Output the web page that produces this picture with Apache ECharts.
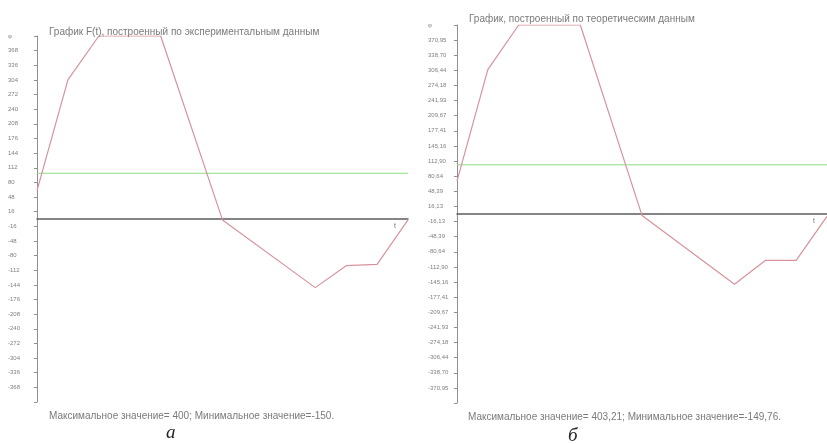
<!DOCTYPE html>
<html>
<head>
<meta charset="utf-8">
<script src="https://cdn.jsdelivr.net/npm/echarts@6/dist/echarts.min.js"></script>
<style>
  html, body { margin: 0; padding: 0; background: #fff; }
  #main { width: 827px; height: 444px; }
</style>
</head>
<body>
<div id="main"></div>
<script>
// углы (град) в точках излома
var anglesA = [0, 30, 60, 120, 180, 270, 300, 330, 360]
var valuesA = [62, 304, 400, 400, -2, -150, -102, -99, -2]
var anglesB = [0, 30, 60, 120, 180, 270, 300, 330, 360]
var valuesB = [70, 308, 403.21, 403.21, -3, -149.76, -99, -99, -5]
// зелёная линия (среднее)
var avgA = 100
var avgB = 105
// пределы осей
var limitA = 400
var limitB = 403.21
var titleA = 'График F(t), построенный по экспериментальным данным'
var titleB = 'График, построенный по теоретическим данным'
var footA = 'Максимальное значение= 400; Минимальное значение=-150.'
var footB = 'Максимальное значение= 403,21; Минимальное значение=-149,76.'

function pairs(xs, ys) {
  return xs.map(function (x, i) { return [x, ys[i]] })
}

function yAxisFor(idx, limit, digits) {
  return {
    type: 'value',
    gridIndex: idx,
    min: -limit,
    max: limit,
    interval: (2 * limit) / 25,
    splitLine: { show: false },
    axisLine: { show: true, lineStyle: { color: '#8f8f8f', width: 1 } },
    axisTick: { show: true, length: 3, lineStyle: { color: '#8f8f8f' } },
    axisLabel: {
      margin: 29,
      align: 'left',
      fontSize: 6,
      color: '#7f7f7f',
      fontFamily: 'Liberation Sans',
      showMinLabel: true,
      showMaxLabel: true,
      formatter: function (v) {
        if (Math.abs(v - limit) < 1e-6) return 'φ'
        if (Math.abs(v + limit) < 1e-6) return ''
        if (digits === 0) return String(Math.round(v))
        return v.toFixed(2).replace('.', ',')
      },
    },
  }
}

function xAxisFor(idx) {
  return {
    type: 'value',
    gridIndex: idx,
    min: 0,
    max: 360,
    name: 't',
    nameLocation: 'end',
    nameGap: -14,
    nameTextStyle: { fontSize: 7, color: '#777', verticalAlign: 'top', padding: [4, 0, 0, 0] },
    axisLine: { onZero: true, lineStyle: { color: '#5e5e5e', width: 1.5 } },
    axisTick: { show: false },
    axisLabel: { show: false },
    splitLine: { show: false },
  }
}

function lineSeries(idx, data) {
  return {
    type: 'line',
    xAxisIndex: idx,
    yAxisIndex: idx,
    data: data,
    showSymbol: false,
    z: 3,
    lineStyle: { color: '#d7939d', width: 1.2 },
  }
}

// горизонтальная зелёная линия среднего значения
function avgSeries(idx, avg) {
  return {
    type: 'line',
    xAxisIndex: idx,
    yAxisIndex: idx,
    data: [[0, avg], [360, avg]],
    showSymbol: false,
    silent: true,
    z: 2,
    lineStyle: { color: '#8fdc82', width: 1 },
  }
}

var myChart = echarts.init(document.getElementById('main'))

var textStyle = { fontSize: 10, fontWeight: 'normal', color: '#7a7a7a', fontFamily: 'Liberation Sans' }
var capStyle = { fontSize: 19, fontWeight: 'normal', fontStyle: 'italic', color: '#222', fontFamily: 'Liberation Serif' }

var option = {
  animation: false,
  backgroundColor: '#fff',
  title: [
    { text: titleA, left: 44, top: 22, textStyle: textStyle },
    { text: titleB, left: 464, top: 9, textStyle: textStyle },
    { text: footA, left: 44, top: 406, textStyle: textStyle },
    { text: footB, left: 463, top: 407, textStyle: textStyle },
    { text: 'а', left: 161, top: 418, textStyle: capStyle },
    { text: 'б', left: 563, top: 421, textStyle: capStyle },
  ],
  grid: [
    { left: 37, top: 36, width: 371, height: 366 },
    { left: 457, top: 25, width: 370, height: 378 },
  ],
  xAxis: [xAxisFor(0), xAxisFor(1)],
  yAxis: [yAxisFor(0, limitA, 0), yAxisFor(1, limitB, 2)],
  series: [
    avgSeries(0, avgA),
    avgSeries(1, avgB),
    lineSeries(0, pairs(anglesA, valuesA)),
    lineSeries(1, pairs(anglesB, valuesB)),
  ],
}

myChart.setOption(option)
</script>
</body>
</html>
